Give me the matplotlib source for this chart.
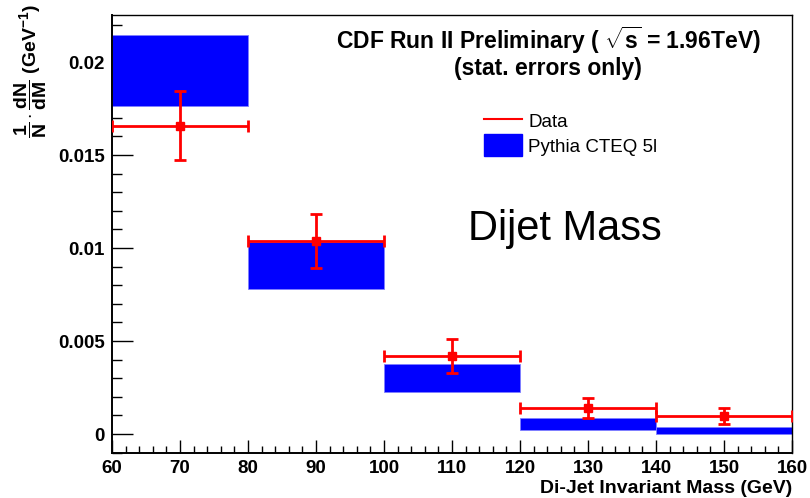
import matplotlib
matplotlib.use("Agg")
import matplotlib.pyplot as plt
from matplotlib.ticker import MultipleLocator, FuncFormatter
from matplotlib.patches import Patch
from matplotlib.lines import Line2D
import numpy as np

plt.rcParams["font.family"] = ["Liberation Sans", "DejaVu Sans"]
plt.rcParams["mathtext.fontset"] = "custom"
plt.rcParams["mathtext.rm"] = "Liberation Sans:bold"
plt.rcParams["mathtext.it"] = "Liberation Sans:bold"
plt.rcParams["mathtext.bf"] = "Liberation Sans:bold"

# Dijet invariant mass bins (GeV)
bin_low = [60, 80, 100, 120, 140]
bin_high = [80, 100, 120, 140, 160]
bin_center = [70, 90, 110, 130, 150]

# Measured normalised distribution with statistical errors
data_val = [0.01658, 0.01038, 0.00419, 0.00140, 0.00098]
data_err = [0.00184, 0.00144, 0.00092, 0.00055, 0.00043]

# Pythia CTEQ 5L prediction (central value and band half-width)
pythia_val = [0.01955, 0.00906, 0.00301, 0.00053, 0.00018]
pythia_err = [0.00193, 0.00128, 0.00075, 0.00033, 0.00020]

fig = plt.figure(figsize=(8.1, 4.98), dpi=100)
ax = fig.add_axes([112 / 810, 45 / 498, 680 / 810, 438 / 498])

lo = np.array(bin_low, dtype=float)
hi = np.array(bin_high, dtype=float)
pv = np.array(pythia_val)
pe = np.array(pythia_err)

ax.bar(lo, 2 * pe, width=hi - lo, bottom=pv - pe, align="edge",
       color="#0000ff", edgecolor="#8080ff", linewidth=0.6, zorder=2)

xc = np.array(bin_center, dtype=float)
ax.errorbar(xc, data_val, yerr=data_err, xerr=[xc - lo, hi - xc],
            fmt="s", color="#ff0000", ms=6, lw=2, capsize=4, capthick=2,
            zorder=3)

ax.set_xlim(60, 160)
ax.set_ylim(-0.00102, 0.02253)

ax.xaxis.set_major_locator(MultipleLocator(10))
ax.xaxis.set_minor_locator(MultipleLocator(2))
ax.yaxis.set_major_locator(MultipleLocator(0.005))
ax.yaxis.set_minor_locator(MultipleLocator(0.001))
ax.yaxis.set_major_formatter(FuncFormatter(lambda v, p: "%g" % round(v, 4)))

ax.tick_params(axis="both", which="both", direction="in", top=False, right=False,
               labelsize=13.5, width=1, color="black")
ax.tick_params(axis="y", which="major", length=15, pad=5)
ax.tick_params(axis="y", which="minor", length=7.5)
ax.tick_params(axis="x", which="major", length=9.5, pad=5)
ax.tick_params(axis="x", which="minor", length=5)
for lab in ax.get_xticklabels() + ax.get_yticklabels():
    lab.set_fontweight("bold")

for sp in ax.spines.values():
    sp.set_linewidth(1.0)
ax.spines["left"].set_linewidth(1.4)
ax.spines["bottom"].set_linewidth(1.4)

# Axis titles placed ROOT-style: x title at the right end, y title at the top
fig.text(792 / 810, 1 - 488 / 498, "Di-Jet Invariant Mass (GeV)",
         ha="right", va="center", fontsize=14, fontweight="bold")
fig.text(31 / 810, 1 - 4 / 498,
         r"$\dfrac{1}{N}\cdot\dfrac{dN}{dM}$ (GeV$^{-1}$)",
         rotation=90, ha="center", va="top", fontsize=14, fontweight="bold")

fig.text(548 / 810, 1 - 40 / 498, r"CDF Run II Preliminary ( $\sqrt{s}$ = 1.96TeV)",
         ha="center", va="center", fontsize=16.5, fontweight="bold")
fig.text(548 / 810, 1 - 69 / 498, "(stat. errors only)",
         ha="center", va="center", fontsize=16.5, fontweight="bold")

handles = [Line2D([0], [0], color="#ff0000", lw=1.5),
           Patch(facecolor="#0000ff", edgecolor="#0000ff")]
leg = ax.legend(handles, ["Data", "Pythia CTEQ 5l"], loc="upper left",
                bbox_to_anchor=(484 / 810, 1 - 110 / 498),
                bbox_transform=fig.transFigure, frameon=False, fontsize=13.5,
                handlelength=2.0, handleheight=1.4, handletextpad=0.35,
                labelspacing=0.15, borderaxespad=0, borderpad=0)

fig.text(565 / 810, 1 - 229 / 498, "Dijet Mass",
         ha="center", va="center", fontsize=30)

fig.savefig("out.png", dpi=100)
